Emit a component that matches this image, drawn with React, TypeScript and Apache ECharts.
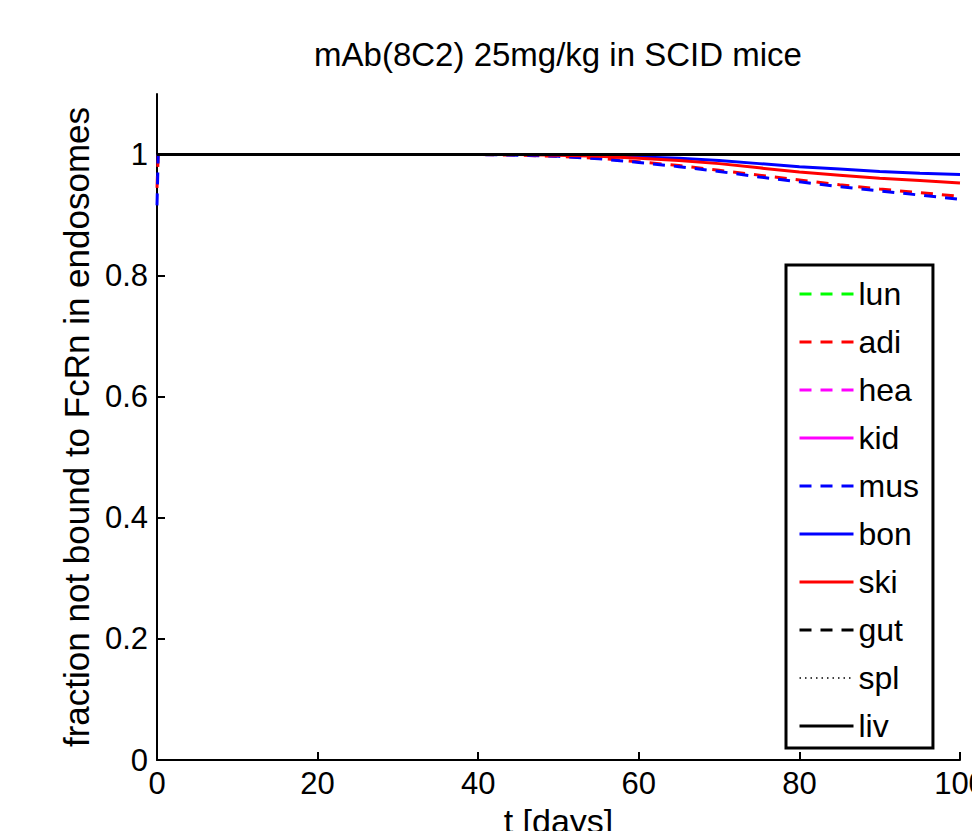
import React, { useEffect, useRef } from "react";
import * as echarts from "echarts";

const tDays = [0, 0.15, 10, 20, 30, 40, 45, 50, 55, 60, 65, 70, 75, 80, 85, 90, 95, 100];
const lun = [1, 1, 1, 1, 1, 1, 1, 1, 1, 1, 1, 1, 1, 1, 1, 1, 1, 1];
const adi = [0.945, 1, 1, 1, 1, 1, 0.999, 0.997, 0.994, 0.988, 0.982, 0.974, 0.966, 0.958, 0.950, 0.943, 0.937, 0.931];
const hea = [1, 1, 1, 1, 1, 1, 1, 1, 1, 1, 1, 1, 1, 1, 1, 1, 1, 1];
const kid = [1, 1, 1, 1, 1, 1, 1, 1, 1, 1, 1, 1, 1, 1, 1, 1, 1, 1];
const mus = [0.916, 1, 1, 1, 1, 1, 0.999, 0.997, 0.993, 0.987, 0.980, 0.972, 0.963, 0.955, 0.947, 0.940, 0.933, 0.926];
const bon = [1, 1, 1, 1, 1, 1, 1, 1, 0.998, 0.996, 0.994, 0.990, 0.985, 0.980, 0.976, 0.972, 0.969, 0.967];
const ski = [1, 1, 1, 1, 1, 1, 1, 0.999, 0.997, 0.994, 0.990, 0.985, 0.978, 0.971, 0.966, 0.961, 0.957, 0.953];
const gut = [1, 1, 1, 1, 1, 1, 1, 1, 1, 1, 1, 1, 1, 1, 1, 1, 1, 1];
const spl = [1, 1, 1, 1, 1, 1, 1, 1, 1, 1, 1, 1, 1, 1, 1, 1, 1, 1];
const liv = [1, 1, 1, 1, 1, 1, 1, 1, 1, 1, 1, 1, 1, 1, 1, 1, 1, 1];

const xTicks = [0, 20, 40, 60, 80, 100];
const yTicks = [0, 0.2, 0.4, 0.6, 0.8, 1];

const FONT = "'Liberation Sans', Arial, Helvetica, sans-serif";
const DASH = [12, 9];
const DOT = [1.5, 4];

const seriesDefs = [
  { name: "lun", values: lun, color: "#00ff00", type: DASH, width: 3 },
  { name: "adi", values: adi, color: "#ff0000", type: DASH, width: 3 },
  { name: "hea", values: hea, color: "#ff00ff", type: DASH, width: 3 },
  { name: "kid", values: kid, color: "#ff00ff", type: "solid", width: 3 },
  { name: "mus", values: mus, color: "#0000ff", type: DASH, width: 3 },
  { name: "bon", values: bon, color: "#0000ff", type: "solid", width: 3 },
  { name: "ski", values: ski, color: "#ff0000", type: "solid", width: 3 },
  { name: "gut", values: gut, color: "#000000", type: DASH, width: 3 },
  { name: "spl", values: spl, color: "#000000", type: DOT, width: 1.5 },
  { name: "liv", values: liv, color: "#000000", type: "solid", width: 3 },
];

export default function App() {
  const ref = useRef<HTMLDivElement>(null);
  useEffect(() => {
    document.body.style.margin = "0";
    if (!ref.current) return;
    const chart = echarts.init(ref.current, null, { renderer: "svg" });
    chart.setOption({
      animation: false,
      backgroundColor: "#ffffff",
      title: {
        text: "mAb(8C2) 25mg/kg in SCID mice",
        left: 558,
        top: 38,
        padding: 0,
        textAlign: "center",
        textStyle: { fontFamily: FONT, fontSize: 33, fontWeight: "normal", color: "#000" },
      },
      grid: { left: 157, right: 12, top: 94, bottom: 71, containLabel: false, outerBoundsMode: "none" },
      xAxis: {
        type: "value",
        min: 0,
        max: 100,
        interval: 20,
        name: "t [days]",
        nameLocation: "middle",
        nameGap: 42,
        nameTextStyle: { fontFamily: FONT, fontSize: 34, color: "#000" },
        axisLine: { lineStyle: { color: "#000", width: 2 } },
        axisTick: { inside: true, length: 8, lineStyle: { color: "#000", width: 2 }, customValues: xTicks },
        axisLabel: { fontFamily: FONT, fontSize: 31, color: "#000", margin: 8, customValues: xTicks },
        splitLine: { show: false },
      },
      yAxis: {
        type: "value",
        min: 0,
        max: 1.1,
        interval: 0.2,
        name: "fraction not bound to FcRn in endosomes",
        nameLocation: "middle",
        nameRotate: 90,
        nameGap: 58,
        nameTextStyle: { fontFamily: FONT, fontSize: 35, color: "#000" },
        axisLine: { show: true, lineStyle: { color: "#000", width: 2 } },
        axisTick: { show: true, inside: true, length: 8, lineStyle: { color: "#000", width: 2 }, customValues: yTicks },
        axisLabel: {
          fontFamily: FONT,
          fontSize: 31,
          color: "#000",
          margin: 9,
          customValues: yTicks,
          formatter: (v: number) => String(Math.round(v * 10) / 10),
        },
        splitLine: { show: false },
      },
      legend: {
        orient: "vertical",
        left: 786,
        top: 265,
        padding: [13, 14, 6, 12],
        itemWidth: 54,
        itemHeight: 30,
        itemGap: 16,
        borderColor: "#000",
        borderWidth: 3,
        backgroundColor: "#fff",
        itemStyle: { opacity: 0 },
        lineStyle: { width: 3 },
        textStyle: { fontFamily: FONT, fontSize: 32, color: "#000", lineHeight: 30 },
        data: seriesDefs.map((s) =>
          s.name === "spl" ? { name: s.name, lineStyle: { width: 1.5 } } : { name: s.name }
        ),
      },
      series: seriesDefs.map((s) => ({
        name: s.name,
        type: "line",
        symbol: "none",
        showSymbol: false,
        data: tDays.map((t, i) => [t, s.values[i]]),
        lineStyle: { color: s.color, width: s.width, type: s.type },
        itemStyle: { color: s.color },
      })),
    });
    return () => chart.dispose();
  }, []);
  return <div ref={ref} style={{ width: 972, height: 831 }} />;
}
